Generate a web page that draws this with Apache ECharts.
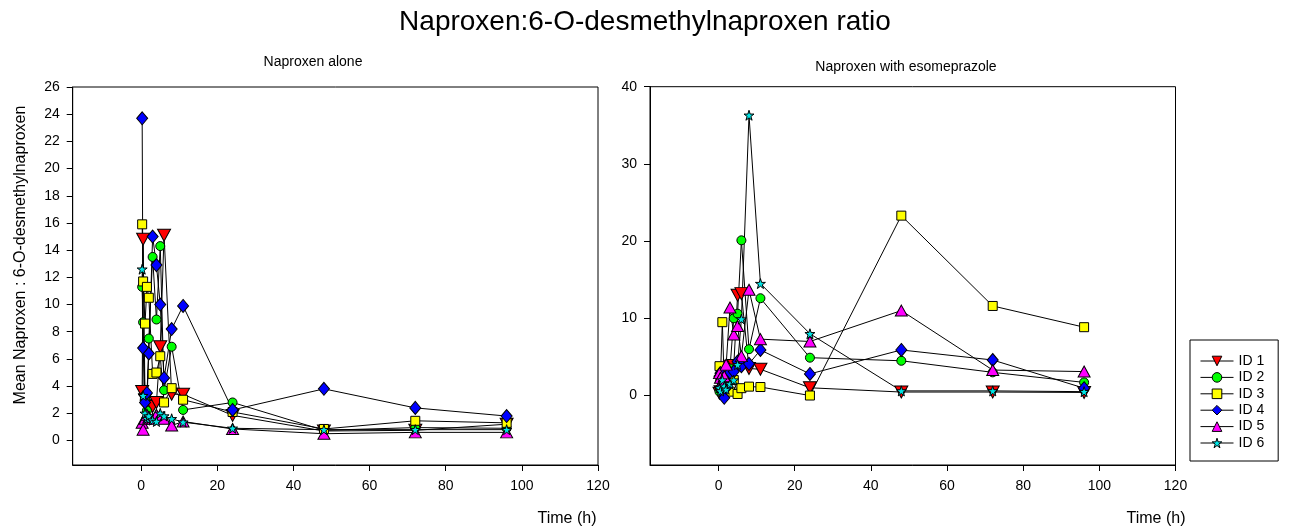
<!DOCTYPE html>
<html>
<head>
<meta charset="utf-8">
<script src="https://cdn.jsdelivr.net/npm/echarts@6/dist/echarts.min.js"></script>
<style>
html, body { margin: 0; padding: 0; background: #fff; }
#chart { width: 1290px; height: 529px; }
</style>
</head>
<body>
<div id="chart"></div>
<script>
// sampling times (h)
var times = [0.25, 0.5, 1, 1.5, 2, 3, 4, 5, 6, 8, 11, 24, 48, 72, 96];
var ids = ['ID 1', 'ID 2', 'ID 3', 'ID 4', 'ID 5', 'ID 6'];

// Naproxen alone
var alone1 = [3.6, 14.8, 3.0, 2.6, 2.4, 2.5, 2.8, 6.9, 15.1, 3.4, 3.4, 1.85, 0.7, 0.75, 1.2];
var alone2 = [11.3, 8.7, 3.0, 2.2, 7.5, 13.5, 8.9, 14.3, 3.7, 6.9, 2.25, 2.8, 0.75, 0.95, 0.9];
var alone3 = [15.9, 11.7, 8.6, 11.3, 10.5, 4.9, 5.0, 6.2, 2.8, 3.85, 3.0, 2.1, 0.85, 1.45, 1.3];
var alone4 = [23.7, 6.8, 2.8, 3.5, 6.4, 15.0, 12.9, 10.0, 4.6, 8.2, 9.9, 2.25, 3.8, 2.4, 1.8];
var alone5 = [1.3, 0.8, 1.6, 1.9, 1.7, 1.6, 1.9, 1.8, 1.6, 1.1, 1.4, 0.85, 0.5, 0.6, 0.6];
var alone6 = [12.6, 3.3, 2.0, 1.6, 1.8, 1.5, 1.4, 2.0, 1.8, 1.6, 1.35, 0.9, 0.8, 0.8, 0.8];

// Naproxen with esomeprazole
var eso1 = [0.3, 0.5, 1.2, 2.0, 2.8, 3.8, 3.9, 13.0, 13.2, 3.5, 3.4, 1.0, 0.45, 0.45, 0.4];
var eso2 = [0.5, 1.0, 1.5, 2.5, 3.0, 3.5, 10.0, 10.6, 20.1, 6.0, 12.6, 4.9, 4.5, 3.0, 1.7];
var eso3 = [3.8, 2.5, 9.5, 1.5, 0.8, 0.5, 2.0, 0.2, 0.95, 1.15, 1.1, 0.0, 23.3, 11.6, 8.85];
var eso4 = [2.5, 2.9, 0.5, -0.3, 1.0, 3.0, 3.1, 4.4, 3.8, 4.1, 5.9, 2.8, 5.9, 4.6, 0.95];
var eso5 = [2.9, 2.3, 1.8, 2.5, 4.0, 11.4, 7.9, 9.0, 5.1, 13.7, 7.3, 7.0, 11.0, 3.3, 3.1];
var eso6 = [1.0, 0.6, 2.0, 1.2, 0.8, 1.5, 2.0, 4.0, 9.9, 36.3, 14.5, 8.0, 0.6, 0.6, 0.5];

var xTicks = [0, 20, 40, 60, 80, 100, 120];
var yTicksAlone = [0, 2, 4, 6, 8, 10, 12, 14, 16, 18, 20, 22, 24, 26];
var yTicksEso = [0, 10, 20, 30, 40];

var font = 'Liberation Sans, Arial, sans-serif';
var star = 'path://M50,0L61.2,34.6L97.6,34.5L68.1,55.9L79.4,90.5L50,69L20.6,90.5L31.9,55.9L2.4,34.5L38.8,34.6Z';
var symbols = ['triangle', 'circle', 'rect', 'diamond', 'triangle', star];
var rotates = [180, 0, 0, 0, 0, 0];
var sizes = [[13, 12], 9, 9, [11, 13], [12, 11], 10];
var colors = ['#ff0000', '#00ff00', '#ffff00', '#0000ff', '#ff00ff', '#00e5e5'];

function makeSeries(vals, k, gi)
{
    return {
        name: ids[k],
        type: 'line',
        xAxisIndex: gi,
        yAxisIndex: gi,
        data: times.map(function(t, j) { return [t, vals[j]]; }),
        symbol: symbols[k],
        symbolRotate: rotates[k],
        symbolSize: sizes[k],
        showAllSymbol: true,
        itemStyle: { color: colors[k], borderColor: '#000', borderWidth: 1 },
        lineStyle: { color: '#000', width: 1 },
        emphasis: { disabled: true }
    };
}

function xAxis(gi)
{
    return {
        type: 'value', gridIndex: gi, min: -18, max: 120,
        axisLine: { show: true, onZero: false, lineStyle: { color: '#000' } },
        axisTick: { show: true, customValues: xTicks, length: 6, lineStyle: { color: '#000' } },
        axisLabel: { customValues: xTicks, fontSize: 14, color: '#000', margin: 14, fontFamily: font },
        splitLine: { show: false }
    };
}

function yAxis(gi, min, max, ticks)
{
    return {
        type: 'value', gridIndex: gi, min: min, max: max,
        axisLine: { show: true, onZero: false, lineStyle: { color: '#000' } },
        axisTick: { show: true, customValues: ticks, length: 6, lineStyle: { color: '#000' } },
        axisLabel: { customValues: ticks, fontSize: 14, color: '#000', margin: 13, fontFamily: font },
        splitLine: { show: false }
    };
}

var alone = [alone1, alone2, alone3, alone4, alone5, alone6];
var eso = [eso1, eso2, eso3, eso4, eso5, eso6];
var series = [];
alone.forEach(function(v, k) { series.push(makeSeries(v, k, 0)); });
eso.forEach(function(v, k) { series.push(makeSeries(v, k, 1)); });

function label(text, x, y, size, rot)
{
    return {
        type: 'text', x: x, y: y, rotation: rot || 0,
        style: { text: text, fill: '#000', font: size + 'px ' + font, align: 'center', verticalAlign: 'middle', textAlign: 'center', textVerticalAlign: 'middle' }
    };
}

var chart = echarts.init(document.getElementById('chart'));
chart.setOption({
    animation: false,
    backgroundColor: '#fff',
    grid: [
        { left: 72.7, top: 87, width: 525.3, height: 378, show: true, borderColor: '#000', borderWidth: 1 },
        { left: 650, top: 86.7, width: 525.5, height: 378.3, show: true, borderColor: '#000', borderWidth: 1 }
    ],
    xAxis: [xAxis(0), xAxis(1)],
    yAxis: [yAxis(0, -1.8, 26, yTicksAlone), yAxis(1, -9, 40, yTicksEso)],
    legend: {
        data: ids.map(function(n, k) {
            return { name: n, itemStyle: { color: colors[k], borderColor: '#000', borderWidth: 1 } };
        }),
        orient: 'vertical',
        left: 1190, top: 340,
        padding: [14, 14, 11, 10],
        itemWidth: 33, itemHeight: 12, itemGap: 2.4,
        borderColor: '#000', borderWidth: 1,
        lineStyle: { color: '#000', width: 1 },
        textStyle: { fontSize: 14, color: '#000', lineHeight: 14, fontFamily: font }
    },
    graphic: [
        label('Naproxen:6-O-desmethylnaproxen ratio', 645, 22, 28),
        label('Naproxen alone', 313, 62, 14),
        label('Naproxen with esomeprazole', 906, 67, 14),
        label('Time (h)', 567, 519, 16),
        label('Time (h)', 1156, 519, 16),
        label('Mean Naproxen : 6-O-desmethylnaproxen', 21, 255, 16, Math.PI / 2)
    ],
    series: series
});
</script>
</body>
</html>
